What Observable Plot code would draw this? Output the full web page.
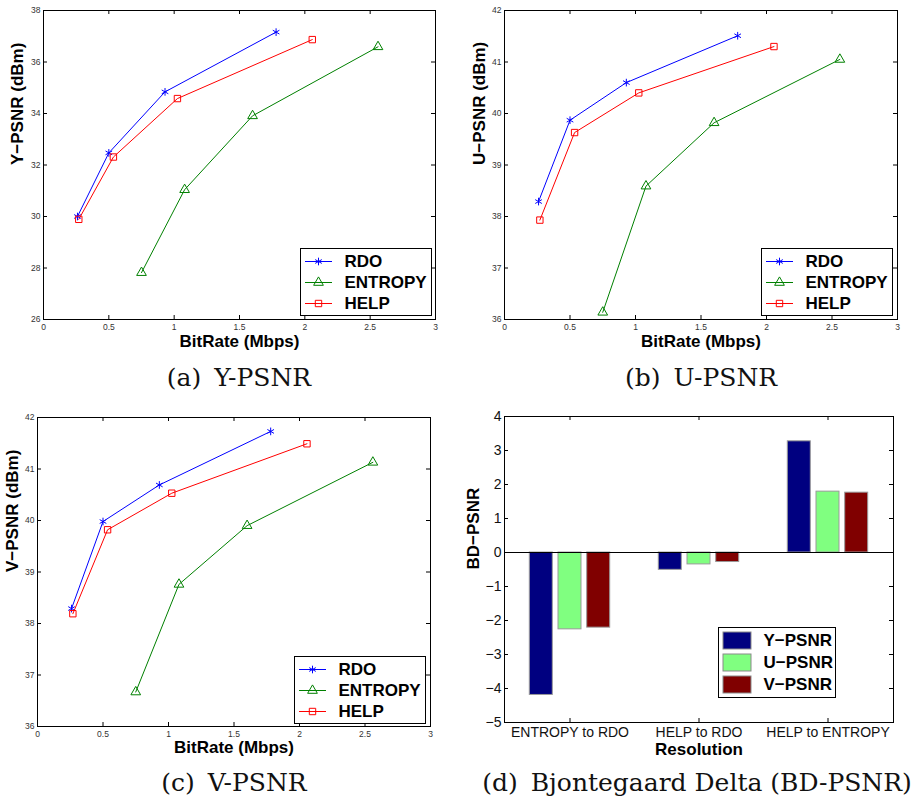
<!DOCTYPE html>
<html>
<head>
<meta charset="utf-8">
<script src="https://cdn.jsdelivr.net/npm/d3@7"></script>
<script src="https://cdn.jsdelivr.net/npm/@observablehq/plot@0.6"></script>
<style>
  html, body { margin: 0; padding: 0; background: #fff; }
  #page { position: relative; width: 915px; height: 798px; overflow: hidden; background: #fff; }
  .panel, .legend { position: absolute; }
  .caption {
    position: absolute; width: 500px; text-align: center; white-space: nowrap;
    font-family: "DejaVu Serif", "Liberation Serif", serif; font-size: 25px; line-height: 28px; color: #111;
  }
  .caption .gap { display: inline-block; width: 13px; }
</style>
</head>
<body>
<div id="page"></div>
<script>
// Coding schemes compared in the rate–distortion panels
const schemes = ["RDO", "ENTROPY", "HELP"];
const schemeColors = ["#0000ff", "#008000", "#ff0000"];
const schemeSymbols = ["asterisk", "triangle", "square"];

// Bit rate (Mbps) of the four operating points of each scheme
const bitrateRDO = [0.26, 0.50, 0.93, 1.78];
const bitrateENTROPY = [0.75, 1.08, 1.60, 2.56];
const bitrateHELP = [0.27, 0.535, 1.025, 2.057];

// Y-PSNR (dBm)
const yPsnrRDO = [30.00, 32.47, 34.84, 37.16];
const yPsnrENTROPY = [27.82, 31.04, 33.91, 36.59];
const yPsnrHELP = [29.89, 32.31, 34.58, 36.87];

// U-PSNR (dBm)
const uPsnrRDO = [38.29, 39.87, 40.60, 41.51];
const uPsnrENTROPY = [36.14, 38.59, 39.82, 41.05];
const uPsnrHELP = [37.93, 39.63, 40.40, 41.30];

// V-PSNR (dBm)
const vPsnrRDO = [38.29, 39.98, 40.69, 41.73];
const vPsnrENTROPY = [36.67, 38.76, 39.90, 41.13];
const vPsnrHELP = [38.19, 39.82, 40.53, 41.49];

// Axis ticks
const rateTicks = [0, 0.5, 1, 1.5, 2, 2.5, 3];
const yPsnrTicks = [26, 28, 30, 32, 34, 36, 38];
const uvPsnrTicks = [36, 37, 38, 39, 40, 41, 42];

// Bjontegaard delta PSNR between pairs of schemes
const bdGroups = ["ENTROPY to RDO", "HELP to RDO", "HELP to ENTROPY"];
const bdMetrics = ["Y\u2212PSNR", "U\u2212PSNR", "V\u2212PSNR"];
const bdColors = ["#000080", "#80ff80", "#800000"];
const bdY = [-4.19, -0.51, 3.27];
const bdU = [-2.26, -0.35, 1.79];
const bdV = [-2.21, -0.28, 1.76];
const bdTicks = [-5, -4, -3, -2, -1, 0, 1, 2, 3, 4];

const FONT = "'Liberation Sans', Arial, Helvetica, sans-serif";
const numFormat = d3.format("");
const page = document.getElementById("page");

function place(el, cls, left, top) {
  const wrap = document.createElement("div");
  wrap.className = cls;
  wrap.style.left = left + "px";
  wrap.style.top = top + "px";
  wrap.appendChild(el);
  page.appendChild(wrap);
}

function caption(tag, text, cx, cy) {
  const div = document.createElement("div");
  div.className = "caption";
  div.style.left = (cx - 250) + "px";
  div.style.top = (cy - 14) + "px";
  div.innerHTML = `${tag}<span class="gap"></span>${text}`;
  page.appendChild(div);
}

// Short ticks pointing into the frame on all four sides (MATLAB style)
function inwardTicks(xVals, yVals, frameW, frameH, len = 4) {
  const s = {stroke: "black", strokeWidth: 1};
  return [
    Plot.tickX(xVals, {...s, x: d => d, insetTop: frameH - len}),
    Plot.tickX(xVals, {...s, x: d => d, insetBottom: frameH - len}),
    Plot.tickY(yVals, {...s, y: d => d, insetRight: frameW - len}),
    Plot.tickY(yVals, {...s, y: d => d, insetLeft: frameW - len})
  ];
}

function tidy(rates, values) {
  return schemes.flatMap((s, i) => rates[i].map((r, j) => ({scheme: s, rate: r, psnr: values[i][j]})));
}

function linePanel({rows, yDomain, yTicks, yLabel, width, height, margin, labelDx, labelDy}) {
  const [mt, mr, mb, ml] = margin;
  return Plot.plot({
    width, height, marginTop: mt, marginRight: mr, marginBottom: mb, marginLeft: ml,
    style: {fontFamily: FONT, fontSize: "8.5px", background: "transparent", overflow: "visible"},
    x: {domain: [0, 3], label: null},
    y: {domain: yDomain, label: null},
    color: {domain: schemes, range: schemeColors},
    symbol: {domain: schemes, range: schemeSymbols},
    marks: [
      Plot.frame({stroke: "black", strokeWidth: 1}),
      ...inwardTicks(rateTicks, yTicks, width - ml - mr, height - mt - mb),
      Plot.axisX(rateTicks, {anchor: "bottom", tickSize: 0, tickPadding: 4, tickFormat: numFormat, fill: "#333", label: null}),
      Plot.axisY(yTicks, {anchor: "left", tickSize: 0, tickPadding: 3, tickFormat: numFormat, fill: "#333", label: null}),
      Plot.line(rows, {x: "rate", y: "psnr", z: "scheme", stroke: "scheme", strokeWidth: 1}),
      Plot.dot(rows, {x: "rate", y: "psnr", symbol: "scheme", stroke: "scheme", r: 3.6, strokeWidth: 1}),
      Plot.text([yLabel], {text: d => d, frameAnchor: "left", dx: labelDx, rotate: -90, fontSize: 17, fontWeight: "bold", fill: "black"}),
      Plot.text(["BitRate (Mbps)"], {text: d => d, frameAnchor: "bottom", dy: labelDy, fontSize: 17, fontWeight: "bold", fill: "black"})
    ]
  });
}

function lineLegend() {
  return Plot.plot({
    width: 131, height: 67, margin: 0,
    style: {fontFamily: FONT, background: "transparent", overflow: "visible"},
    y: {type: "point", domain: schemes, padding: 0.57, axis: null},
    color: {domain: schemes, range: schemeColors},
    symbol: {domain: schemes, range: schemeSymbols},
    marks: [
      Plot.frame({fill: "white", stroke: "black", strokeWidth: 1}),
      Plot.ruleY(schemes, {y: d => d, stroke: d => d, strokeWidth: 1, insetLeft: 5, insetRight: 99}),
      Plot.dot(schemes, {y: d => d, frameAnchor: "left", dx: 18, symbol: d => d, stroke: d => d, r: 3.6, strokeWidth: 1}),
      Plot.text(schemes, {y: d => d, text: d => d, frameAnchor: "left", dx: 44, textAnchor: "start", fontSize: 17, fontWeight: "bold", fill: "black"})
    ]
  });
}

const bitrates = [bitrateRDO, bitrateENTROPY, bitrateHELP];

// (a) Y-PSNR
place(linePanel({
  rows: tidy(bitrates, [yPsnrRDO, yPsnrENTROPY, yPsnrHELP]),
  yDomain: [26, 38], yTicks: yPsnrTicks, yLabel: "Y\u2212PSNR (dBm)",
  width: 450, height: 352, margin: [10, 15, 33, 43], labelDx: -26, labelDy: 27
}), "panel", 0, 0);
place(lineLegend(), "legend", 300, 248);
caption("(a)", "Y-PSNR", 239, 378);

// (b) U-PSNR
place(linePanel({
  rows: tidy(bitrates, [uPsnrRDO, uPsnrENTROPY, uPsnrHELP]),
  yDomain: [36, 42], yTicks: uvPsnrTicks, yLabel: "U\u2212PSNR (dBm)",
  width: 460, height: 352, margin: [10, 18, 33, 49], labelDx: -25, labelDy: 27
}), "panel", 455, 0);
place(lineLegend(), "legend", 761, 248);
caption("(b)", "U-PSNR", 701, 378);

// (c) V-PSNR
place(linePanel({
  rows: tidy(bitrates, [vPsnrRDO, vPsnrENTROPY, vPsnrHELP]),
  yDomain: [36, 42], yTicks: uvPsnrTicks, yLabel: "V\u2212PSNR (dBm)",
  width: 450, height: 360, margin: [17, 20, 34, 37], labelDx: -25, labelDy: 26
}), "panel", 0, 400);
place(lineLegend(), "legend", 294, 656);
caption("(c)", "V-PSNR", 234, 783);

// (d) Bjontegaard delta bars
const bdSeries = [bdY, bdU, bdV];
const bdRows = bdMetrics.flatMap((m, i) => bdGroups.map((g, j) => ({metric: m, group: g, value: bdSeries[i][j]})));
const barOffsets = [-28.7, 0, 28.7];

place(Plot.plot({
  width: 460, height: 360,
  marginTop: 16, marginRight: 22, marginBottom: 38, marginLeft: 49,
  style: {fontFamily: FONT, fontSize: "14px", background: "transparent", overflow: "visible"},
  x: {domain: bdGroups, padding: 0, label: null},
  y: {domain: [-5, 4], label: null},
  color: {domain: bdMetrics, range: bdColors},
  marks: [
    ...bdMetrics.map((m, i) => Plot.barY(bdRows.filter(d => d.metric === m), {
      x: "group", y: "value", fill: "metric", stroke: "#9a9a9a", strokeWidth: 1,
      insetLeft: 53, insetRight: 53, dx: barOffsets[i]
    })),
    Plot.ruleY([0], {stroke: "black", strokeWidth: 1}),
    Plot.frame({stroke: "black", strokeWidth: 1}),
    ...inwardTicks(bdGroups, bdTicks, 460 - 49 - 22, 360 - 16 - 38),
    Plot.axisX(bdGroups, {anchor: "bottom", tickSize: 0, tickPadding: 5, fill: "#111", label: null}),
    Plot.axisY(bdTicks, {anchor: "left", tickSize: 0, tickPadding: 3, tickFormat: numFormat, fill: "#111", label: null}),
    Plot.text(["BD\u2212PSNR"], {text: d => d, frameAnchor: "left", dx: -31, rotate: -90, fontSize: 17, fontWeight: "bold", fill: "black"}),
    Plot.text(["Resolution"], {text: d => d, frameAnchor: "bottom", dy: 32, fontSize: 17, fontWeight: "bold", fill: "black"})
  ]
}), "panel", 455, 400);

place(Plot.plot({
  width: 117, height: 70, margin: 0,
  style: {fontFamily: FONT, background: "transparent", overflow: "visible"},
  y: {type: "band", domain: bdMetrics, paddingInner: 0.25, paddingOuter: 0.167, axis: null},
  color: {domain: bdMetrics, range: bdColors},
  marks: [
    Plot.frame({fill: "white", stroke: "black", strokeWidth: 1}),
    Plot.cell(bdMetrics, {y: d => d, fill: d => d, stroke: "#8a8a8a", strokeWidth: 1, insetLeft: 5, insetRight: 84}),
    Plot.text(bdMetrics, {y: d => d, text: d => d, frameAnchor: "left", dx: 45, textAnchor: "start", fontSize: 17, fontWeight: "bold", fill: "black"})
  ]
}), "legend", 718, 627);
caption("(d)", "Bjontegaard Delta (BD-PSNR)", 697, 783);
</script>
</body>
</html>
